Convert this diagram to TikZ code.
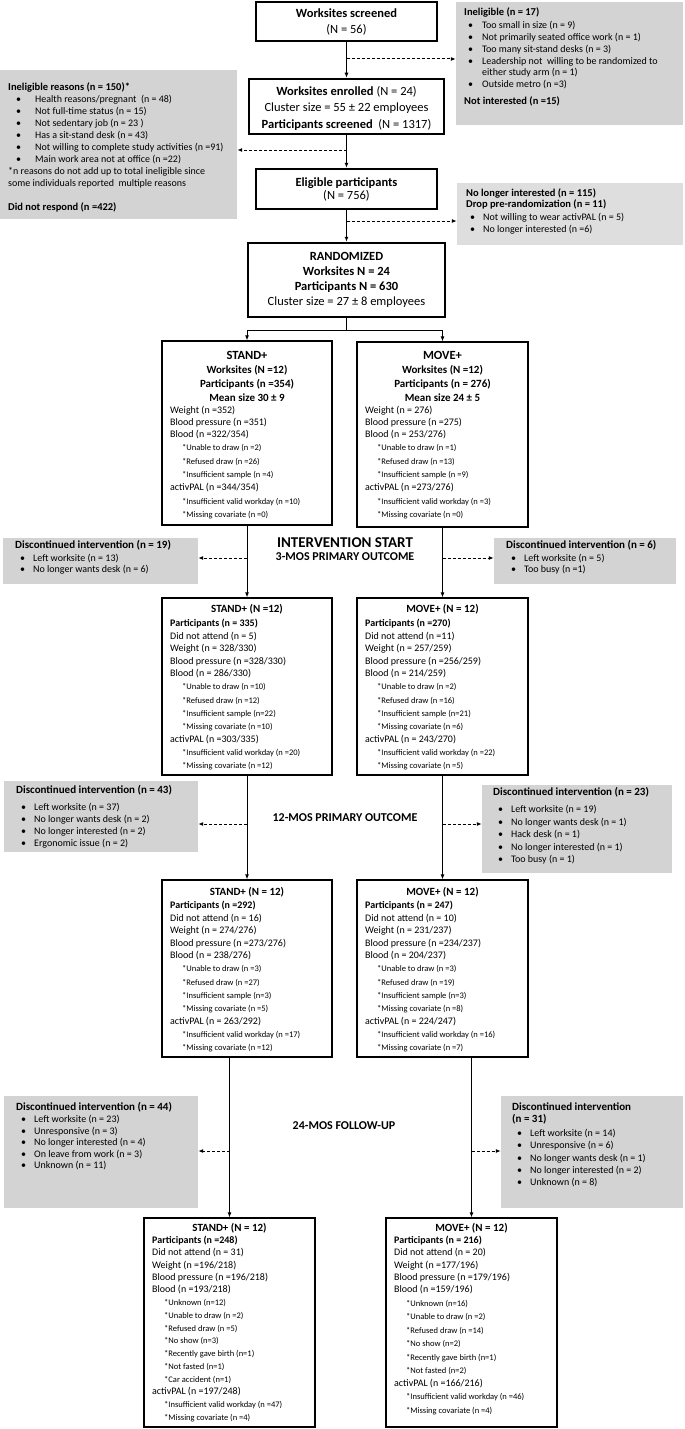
\documentclass[tikz,border=0pt]{standalone}
\usepackage{fontspec}
\setmainfont{Carlito}
\usetikzlibrary{arrows.meta}
\definecolor{gA}{HTML}{D3D3D3}
\definecolor{gB}{HTML}{DEDEDE}
\newcommand\bxx[6]{\node[#2, minimum width={(#5)-(#3)}, minimum height={(#6)-(#4)}] (#1) at ({((#3)+(#5))/2},{((#4)+(#6))/2}) {};}
\newcommand\bl[3]{\hspace*{#1pt}\makebox[#2pt][l]{\textbullet}#3}
\newcommand\fBig{\fontsize{12.5}{16}\selectfont}
\newcommand\fSub{\fontsize{8.5}{10}\selectfont}
\newcommand\sub[1]{\hspace*{12pt}{\fSub *#1}}
\newcommand\rl{\rule{0pt}{10pt}}
\tikzset{
  bigbox/.style={draw, line width=2.5pt, inner sep=0pt},
  armbox/.style={draw, line width=1.2pt, inner sep=0pt},
  grayA/.style={fill=gA, inner sep=0pt},
  grayB/.style={fill=gB, inner sep=0pt},
  txt/.style={inner sep=0pt, anchor=north west, align=left},
  ctxt/.style={inner sep=0pt, anchor=north, align=center},
  lbl/.style={inner sep=0pt, anchor=base, font=\fontsize{12}{14}\selectfont\bfseries},
  conn/.style={line width=1pt, -{Latex[length=5pt,width=4pt]}},
  dconn/.style={conn, dash pattern=on 3pt off 2pt},
  headf/.style={font=\fontsize{11}{14}\selectfont\bfseries},
}
\begin{document}
\begin{tikzpicture}[x=1pt,y=-1pt]
\useasboundingbox (0,0) rectangle (685,1429);
% ---------- gray boxes ----------
\bxx{g1}{grayA}{456}{2}{683}{125}
\bxx{g2}{grayA}{0}{70}{237}{219}
\bxx{g3}{grayB}{457}{183}{683}{245}
\bxx{g4}{grayA}{3}{538}{198}{584}
\bxx{g5}{grayA}{494}{538}{676}{584}
\bxx{g6}{grayA}{4}{781}{198}{852}
\bxx{g7}{grayA}{482}{785}{672}{873}
\bxx{g8}{grayA}{4}{1096}{198}{1208}
\bxx{g9}{grayA}{501}{1096}{683}{1208}
% ---------- main boxes ----------
\bxx{ws}{bigbox}{256}{2}{437}{41}
\bxx{enr}{bigbox}{249}{79}{444}{134}
\bxx{elig}{bigbox}{256}{169}{437}{209}
\bxx{rand}{bigbox}{248}{243}{445}{317}
\bxx{s1}{armbox}{162}{341}{332}{525}
\bxx{m1}{armbox}{357}{342}{528}{527}
\bxx{s3}{armbox}{162}{598}{332}{775}
\bxx{m3}{armbox}{357}{598}{528}{775}
\bxx{s12}{armbox}{162}{880}{332}{1057}
\bxx{m12}{armbox}{357}{880}{528}{1057}
\bxx{s24}{armbox}{144}{1218}{315}{1427}
\bxx{m24}{armbox}{386}{1218}{557}{1427}
% ---------- texts of main boxes ----------
\node[ctxt, font=\fBig] (wst) at (346.5,7) {\rl\textbf{Worksites screened}\\(N = 56)};
\node[ctxt, font=\fBig] (enrt) at (346.5,85) {\rl\textbf{Worksites enrolled} (N = 24)\\Cluster size = 55 ± 22 employees\\[1pt]\textbf{Participants screened}~ (N = 1317)};
\node[ctxt, font=\fontsize{12.5}{13}\selectfont] (eligt) at (346.5,176) {\rl\textbf{Eligible participants}\\(N = 756)};
\node[ctxt, font=\fontsize{12.5}{15}\selectfont] (randt) at (346.5,250) {\rl\textbf{RANDOMIZED}\\\textbf{Worksites N = 24}\\\textbf{Participants N = 630}\\Cluster size = 27 ± 8 employees};
% ---------- gray texts ----------
\node[txt, font=\fontsize{10}{11.8}\selectfont] (g1t) at (464,5.5) {\rl{\fontsize{10.5}{11}\selectfont\bfseries Ineligible (n = 17)}\\[1.2pt]\bl{4}{14}{Too small in size (n = 9)}\\\bl{4}{14}{Not primarily seated office work (n = 1)}\\\bl{4}{14}{Too many sit-stand desks (n = 3)}\\\bl{4}{14}{Leadership not\ \ willing to be randomized to}\\\hspace*{18pt}either study arm (n = 1)\\\bl{4}{14}{Outside metro (n =3)}\\[5.2pt]{\fontsize{10.5}{11}\selectfont\bfseries Not interested (n =15)}};
\node[txt, font=\fontsize{10}{12}\selectfont] (g2t) at (8,80.5) {\rl{\fontsize{10.5}{11}\selectfont\bfseries Ineligible reasons (n = 150)*}\\\bl{8}{19}{Health reasons/pregnant\ \ (n = 48)}\\\bl{8}{19}{Not full-time status (n = 15)}\\\bl{8}{19}{Not sedentary job (n = 23 )}\\\bl{8}{19}{Has a sit-stand desk (n = 43)}\\\bl{8}{19}{Not willing to complete study activities (n =91)}\\\bl{8}{19}{Main work area not at office (n =22)}\\*n reasons do not add up to total ineligible since\\some individuals reported\ \ multiple reasons\\[12pt]{\fontsize{10.5}{11}\selectfont\bfseries Did not respond (n =422)}};
\node[txt, font=\fontsize{10}{12}\selectfont] (g3t) at (466,186.5) {\rl{\fontsize{10.5}{11}\selectfont\bfseries No longer interested (n = 115)}\\[-1pt]{\fontsize{10.5}{11}\selectfont\bfseries Drop pre-randomization (n = 11)}\\[1pt]\bl{4}{13}{Not willing to wear activPAL (n = 5)}\\\bl{4}{13}{No longer interested (n =6)}};
\node[txt, font=\fontsize{10}{11.2}\selectfont] (g4t) at (15,538.5) {\rl{\fontsize{11}{12}\selectfont\bfseries Discontinued intervention (n = 19)}\\[1.6pt]\bl{5}{13}{Left worksite (n = 13)}\\\bl{5}{13}{No longer wants desk (n = 6)}};
\node[txt, font=\fontsize{10}{11.2}\selectfont] (g5t) at (506,538.5) {\rl{\fontsize{11}{12}\selectfont\bfseries Discontinued intervention (n = 6)}\\[1.6pt]\bl{5}{13}{Left worksite (n = 5)}\\\bl{5}{13}{Too busy (n =1)}};
\node[txt, font=\fontsize{10}{12}\selectfont] (g6t) at (16,783.5) {\rl{\fontsize{11}{12}\selectfont\bfseries Discontinued intervention (n = 43)}\\[4.8pt]\bl{5}{13}{Left worksite (n = 37)}\\\bl{5}{13}{No longer wants desk (n = 2)}\\\bl{5}{13}{No longer interested (n = 2)}\\\bl{5}{13}{Ergonomic issue (n = 2)}};
\node[txt, font=\fontsize{10}{12.5}\selectfont] (g7t) at (493,785.5) {\rl{\fontsize{11}{12}\selectfont\bfseries Discontinued intervention (n = 23)}\\[4.3pt]\bl{5}{13}{Left worksite (n = 19)}\\\bl{5}{13}{No longer wants desk (n = 1)}\\\bl{5}{13}{Hack desk (n = 1)}\\\bl{5}{13}{No longer interested (n = 1)}\\\bl{5}{13}{Too busy (n = 1)}};
\node[txt, font=\fontsize{10}{11.5}\selectfont] (g8t) at (16,1100.5) {\rl{\fontsize{11}{12}\selectfont\bfseries Discontinued intervention (n = 44)}\\[0.3pt]\bl{5}{13}{Left worksite (n = 23)}\\\bl{5}{13}{Unresponsive (n = 3)}\\\bl{5}{13}{No longer interested (n = 4)}\\\bl{5}{13}{On leave from work (n = 3)}\\\bl{5}{13}{Unknown (n = 11)}};
\node[txt, font=\fontsize{10}{12.2}\selectfont] (g9t) at (512,1100.5) {\rl{\fontsize{11}{12}\selectfont\bfseries Discontinued intervention}\\{\fontsize{11}{12}\selectfont\bfseries (n = 31)}\\[1.6pt]\bl{5}{13}{Left worksite (n = 14)}\\\bl{5}{13}{Unresponsive (n = 6)}\\\bl{5}{13}{No longer wants desk (n = 1)}\\\bl{5}{13}{No longer interested (n = 2)}\\\bl{5}{13}{Unknown (n = 8)}};
% ---------- middle labels ----------
\node[lbl, font=\fontsize{15}{18}\selectfont\bfseries] (intst) at (345,547) {INTERVENTION START};
\node[lbl] (mo3) at (345,560) {3-MOS PRIMARY OUTCOME};
\node[lbl] (mo12) at (345,821) {12-MOS PRIMARY OUTCOME};
\node[lbl] (mo24) at (344,1129) {24-MOS FOLLOW-UP};
% ---------- arm box texts: baseline ----------
\node[ctxt, headf] (s1h) at (247,349) {\rl{\fBig\bfseries STAND+}\\Worksites (N =12)\\Participants (n =354)\\Mean size 30 ± 9};
\node[txt, font=\fontsize{10}{12}\selectfont] (s1b) at (170,403.3) {\rl Weight (n =352)\\Blood pressure (n =351)\\Blood (n =322/354)\\[1.3pt]\sub{Unable to draw (n =2)}\\[1.3pt]\sub{Refused draw (n =26)}\\[1.3pt]\sub{Insufficient sample (n =4)}\\[1.3pt]activPAL (n =344/354)\\[1.3pt]\sub{Insufficient valid workday (n =10)}\\[1.3pt]\sub{Missing covariate (n =0)}};
\node[ctxt, headf] (m1h) at (442.5,349) {\rl{\fBig\bfseries MOVE+}\\Worksites (N =12)\\Participants (n = 276)\\Mean size 24 ± 5};
\node[txt, font=\fontsize{10}{12}\selectfont] (m1b) at (365,403.3) {\rl Weight (n = 276)\\Blood pressure (n =275)\\Blood (n = 253/276)\\[1.3pt]\sub{Unable to draw (n =1)}\\[1.3pt]\sub{Refused draw (n =13)}\\[1.3pt]\sub{Insufficient sample (n =9)}\\[1.3pt]activPAL (n =273/276)\\[1.3pt]\sub{Insufficient valid workday (n =3)}\\[1.3pt]\sub{Missing covariate (n =0)}};
% ---------- 3 months ----------
\node[ctxt, headf] (s3h) at (247,602.5) {\rl STAND+ (N =12)};
\node[txt, font=\fontsize{10}{12.5}\selectfont] (s3b) at (170,616.3) {\rl\textbf{Participants (n = 335)}\\Did not attend (n = 5)\\Weight (n = 328/330)\\Blood pressure (n =328/330)\\Blood (n = 286/330)\\[0.8pt]\sub{Unable to draw (n =10)}\\[0.8pt]\sub{Refused draw (n =12)}\\[0.8pt]\sub{Insufficient sample (n=22)}\\[0.8pt]\sub{Missing covariate (n =10)}\\activPAL (n =303/335)\\[0.8pt]\sub{Insufficient valid workday (n =20)}\\[0.8pt]\sub{Missing covariate (n =12)}};
\node[ctxt, headf] (m3h) at (442.5,602.5) {\rl MOVE+ (N = 12)};
\node[txt, font=\fontsize{10}{12.5}\selectfont] (m3b) at (365,616.3) {\rl\textbf{Participants (n =270)}\\Did not attend (n =11)\\Weight (n = 257/259)\\Blood pressure (n =256/259)\\Blood (n = 214/259)\\[0.8pt]\sub{Unable to draw (n =2)}\\[0.8pt]\sub{Refused draw (n =16)}\\[0.8pt]\sub{Insufficient sample (n=21)}\\[0.8pt]\sub{Missing covariate (n =6)}\\activPAL (n = 243/270)\\[0.8pt]\sub{Insufficient valid workday (n =22)}\\[0.8pt]\sub{Missing covariate (n =5)}};
% ---------- 12 months ----------
\node[ctxt, headf] (s12h) at (247,885.5) {\rl STAND+ (N = 12)};
\node[txt, font=\fontsize{10}{12.5}\selectfont] (s12b) at (170,898.3) {\rl\textbf{Participants (n =292)}\\Did not attend (n = 16)\\Weight (n = 274/276)\\Blood pressure (n =273/276)\\Blood (n = 238/276)\\[0.8pt]\sub{Unable to draw (n =3)}\\[0.8pt]\sub{Refused draw (n =27)}\\[0.8pt]\sub{Insufficient sample (n=3)}\\[0.8pt]\sub{Missing covariate (n =5)}\\activPAL (n = 263/292)\\[0.8pt]\sub{Insufficient valid workday (n =17)}\\[0.8pt]\sub{Missing covariate (n =12)}};
\node[ctxt, headf] (m12h) at (442.5,885.5) {\rl MOVE+ (N = 12)};
\node[txt, font=\fontsize{10}{12.5}\selectfont] (m12b) at (365,898.3) {\rl\textbf{Participants (n = 247)}\\Did not attend (n = 10)\\Weight (n = 231/237)\\Blood pressure (n =234/237)\\Blood (n = 204/237)\\[0.8pt]\sub{Unable to draw (n =3)}\\[0.8pt]\sub{Refused draw (n =19)}\\[0.8pt]\sub{Insufficient sample (n=3)}\\[0.8pt]\sub{Missing covariate (n =8)}\\activPAL (n = 224/247)\\[0.8pt]\sub{Insufficient valid workday (n =16)}\\[0.8pt]\sub{Missing covariate (n =7)}};
% ---------- 24 months ----------
\node[ctxt, headf] (s24h) at (229.5,1221.5) {\rl STAND+ (N = 12)};
\node[txt, font=\fontsize{10}{12.3}\selectfont] (s24b) at (152,1233.3) {\rl\textbf{Participants (n =248)}\\Did not attend (n = 31)\\Weight (n =196/218)\\Blood pressure (n =196/218)\\Blood (n =193/218)\\[0.5pt]\sub{Unknown (n=12)}\\[0.5pt]\sub{Unable to draw (n =2)}\\[0.5pt]\sub{Refused draw (n =5)}\\[0.5pt]\sub{No show (n=3)}\\[0.5pt]\sub{Recently gave birth (n=1)}\\[0.5pt]\sub{Not fasted (n=1)}\\[0.5pt]\sub{Car accident (n=1)}\\activPAL (n =197/248)\\[0.5pt]\sub{Insufficient valid workday (n =47)}\\[0.5pt]\sub{Missing covariate (n =4)}};
\node[ctxt, headf] (m24h) at (471.5,1221.5) {\rl MOVE+ (N = 12)};
\node[txt, font=\fontsize{10}{12.3}\selectfont] (m24b) at (394,1233.3) {\rl\textbf{Participants (n = 216)}\\Did not attend (n = 20)\\Weight (n =177/196)\\Blood pressure (n =179/196)\\Blood (n =159/196)\\[1.2pt]\sub{Unknown (n=16)}\\[1.2pt]\sub{Unable to draw (n =2)}\\[1.2pt]\sub{Refused draw (n =14)}\\[1.2pt]\sub{No show (n=2)}\\[1.2pt]\sub{Recently gave birth (n=1)}\\[1.2pt]\sub{Not fasted (n=2)}\\activPAL (n =166/216)\\[1.2pt]\sub{Insufficient valid workday (n =46)}\\[1.2pt]\sub{Missing covariate (n =4)}};
% ---------- connectors ----------
\coordinate (d1) at (346.5,59);
\coordinate (d2) at (346.5,150);
\coordinate (d3) at (346.5,221);
\coordinate (split) at (346.5,330);
\coordinate (d4) at (247,558);
\coordinate (d5) at (442.5,558);
\coordinate (d6) at (247,824);
\coordinate (d7) at (442.5,824);
\coordinate (d8) at (229.5,1151);
\coordinate (d9) at (471.5,1151);
\draw[conn] (ws.south) -- (enr.north);
\draw[conn] (enr.south) -- (elig.north);
\draw[conn] (elig.south) -- (rand.north);
\draw[line width=1pt] (rand.south) -- (split);
\draw[conn] (split) -| (s1.north);
\draw[conn] (split) -| (m1.north);
\draw[conn] (s1.south) -- (s3.north);
\draw[conn] (m1.south) -- (m3.north);
\draw[conn] (s3.south) -- (s12.north);
\draw[conn] (m3.south) -- (m12.north);
\draw[conn] (s12.south -| s24.north) -- (s24.north);
\draw[conn] (m12.south -| m24.north) -- (m24.north);
\draw[dconn] (d1) -- (d1 -| g1.west);
\draw[dconn] (d2) -- (d2 -| g2.east);
\draw[dconn] (d3) -- (d3 -| g3.west);
\draw[dconn] (d4) -- (d4 -| g4.east);
\draw[dconn] (d5) -- (d5 -| g5.west);
\draw[dconn] (d6) -- (d6 -| g6.east);
\draw[dconn] (d7) -- (d7 -| g7.west);
\draw[dconn] (d8) -- (d8 -| g8.east);
\draw[dconn] (d9) -- (d9 -| g9.west);
\end{tikzpicture}
\end{document}
